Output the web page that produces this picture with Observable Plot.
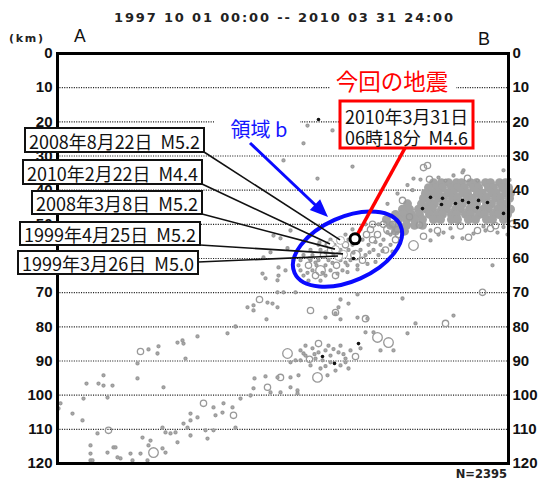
<!DOCTYPE html>
<html><head><meta charset="utf-8">
<script src="https://cdn.jsdelivr.net/npm/d3@7"></script>
<script src="https://cdn.jsdelivr.net/npm/@observablehq/plot@0.6"></script>
<style>body{margin:0;background:#fff;} #chart{width:539px;height:480px;overflow:hidden;}</style>
</head><body><div id="chart"></div>
<script>
// ---------- DATA ----------
const periodTitle = "1997 10 01 00:00 -- 2010 03 31 24:00";
const eventCount = "N=2395";
const depthTicks = [0,10,20,30,40,50,60,70,80,90,100,110,120];
const gridDepths = [10,20,30,40,50,60,70,80,90,100,110];
const sectionEnds = ["A","B"];

// scattered hypocentres: [distance along A-B, depth km, magnitude class 1..3]
const scatterEvents = [
 [250,21.1,1],[246,26.3,1],[275,22.5,1],[295,33.1,1],[260,36.6,1],[366,33.4,2],[406,34.2,1],[381,36.3,1],[356,36.6,1],[396,35.7,1],[420,37.2,1],[370,32.8,2],[363,36.9,1],[405,34.8,1],[446,34.2,1],[226,31.3,1],
 [350,38.5,1],[340,41,1],[355,40,1],[330,44,1],[345,43,2],
 [373,51.8,1],[380,51.8,2],[386,52.4,1],[356,56.2,3],[373,54.7,1],[395,53.8,1],[405,54.1,1],[411,53.8,2],[416,52.7,1],[420,51.8,2],[428,51.8,1],[435,62,1],[433,51.2,2],[440,52.4,1],[393,51.2,1],[403,50.5,2],[381,53,1],[446,50.8,1],[450,53,1],[366,53.5,2],
 [315,50,2],[326,50,2],[335,50,2],[308,50,1],[321,50,1],
 [303,51.5,1],[313,51.5,2],[331,51.5,3],[340,51.5,2],[295,51.5,1],
 [288,53,1],[299,53,1],[309,53,2],[320,53,2],[333,53,1],[341,53,2],
 [273,54.5,1],[283,54.5,1],[291,54.5,1],[305,54.5,1],[315,54.5,2],[326,54.5,1],[338,54.5,2],
 [261,56,1],[269,56,1],[277,56,1],[288,56,2],[295,56,1],[311,56,1],[323,56,1],[333,56,1],
 [253,57.5,1],[263,57.5,1],[273,57.5,2],[283,57.5,1],[291,57.5,1],[303,57.5,1],[316,57.5,1],[328,57.5,2],
 [246,59,1],[255,59,1],[266,59,2],[276,59,1],[288,59,1],[298,59,3],[308,59,1],[321,59,1],
 [243,60.5,1],[253,60.5,1],[261,60.5,1],[271,60.5,1],[283,60.5,1],[293,60.5,1],[305,60.5,2],
 [241,62,1],[251,62,2],[259,62,1],[268,62,1],[279,62,2],[290,62,1],[300,62,1],
 [243,63.5,1],[255,63.5,1],[263,63.5,3],[273,63.5,1],[285,63.5,1],
 [246,65,1],[258,65,2],[268,65,1],[278,65,2],[251,66.5,1],[263,66.5,1],
 [300,55.3,1],[318,55.2,1],[330,52.3,1],[312,58.2,1],[296,58.3,1],[282,58.3,1],[268,58.2,1],[258,61.2,1],[275,61.3,1],[288,61.2,1],[265,64.2,1],[250,64.2,1],[280,64.4,1],[290,64,1],[252,60,1],[262,55.3,1],[345,52.2,1],[325,57.8,1],[335,58,1],[318,61,1],[300,63.2,1],[310,61.6,1],
 [216,53.3,1],[223,54.1,1],[213,58.2,1],[205,64.4,1],[208,65.8,1],[221,65,1],[221,62.6,1],[220,66.4,1],[206,59.7,1],[233,51.8,1],[230,57,1],[236,60.5,1],[228,63.5,1],
 [202,72,2],[210,72.9,1],[215,73.2,1],[220,74.3,1],[196,73.7,1],[190,74.3,1],[196,75.2,1],[220,69.9,1],[226,69.9,1],[238,69.9,1],[253,75.2,2],[278,76.1,1],[268,77.3,1],[283,77.8,1],[209,77.8,1],[140,82.8,1],[170,81.9,1],[178,79.9,1],[120,84.6,1],[125,84,1],[126,84.9,1],[83,87.2,2],[91,86.6,1],[100,87.8,1],[101,85.7,1],[80,90.7,1],[128,89.3,1],[46,94.2,1],[29,96.6,1],[41,96.6,1],[46,97.2,1],[55,97.2,1],[80,95.1,1],[106,97.7,1],[197,95.1,1],[208,94.5,1],[220,94.8,1],[223,94.8,2],[233,94.8,1],[241,94.2,1],[233,97.7,1],[240,98.6,1],[196,98,1],[210,97.7,2],[213,99.2,1],[223,99.2,1],[240,99.5,1],[230,87.8,3],[233,90.4,1],[243,89.8,1],[246,87.8,1],[260,94.8,3],[270,94.2,1],[26,101,1],[50,100.7,1],[193,100.1,1],[183,101,1],[146,102.4,2],[156,103.6,1],[166,102.4,1],[175,103.6,1],[176,105.9,2],[158,105.9,1],[165,105.1,1],[133,105.4,1],[140,106.5,1],[133,107.4,1],[15,105.4,1],[25,107.4,1],[126,108.3,1],[130,109.5,1],[105,109.5,1],[108,110.9,1],[113,111.2,1],[118,110.9,1],[120,113.8,1],[148,110.3,1],[156,110.3,1],[178,109.5,1],[133,111.8,1],[150,112.7,1],[40,111.2,1],[51,110.3,2],[93,113.3,1],[91,114.7,1],[85,112.4,1],[96,116.8,3],[105,115.6,1],[108,116.8,1],[33,114.7,1],[33,117.1,1],[33,119.1,1],[56,115.3,1],[63,118.5,1],[73,117.1,1],[75,119.1,1],[83,117.1,1],[90,119.1,1],[3,102.4,1],[1,103.9,1],[35,119.1,1],[50,116.8,1],[58,115.3,1],[60,118.2,1],
 [331,84.6,3],[320,83.1,3],[316,81.6,1],[308,81.6,1],[303,86.3,1],[336,86.9,1],[323,86.9,1],[300,77.3,1],[310,77.6,1],[281,74.3,1],[278,75.8,2],[291,73.2,1],[308,77.6,2],
 [255,86.3,1],[261,87.5,1],[268,86.9,1],[273,88.4,1],[281,87.5,1],[288,89.3,1],[258,89.3,1],[265,89.8,1],[273,90.4,1],[283,91.3,1],[291,92.2,1],[253,91.3,1],[263,92.2,1],[278,92.8,1],[288,90.4,1],[271,85.5,1],[283,85.5,1],[248,88.4,1],[243,86.9,1],[238,89.8,1],[293,86.9,1],[298,88.7,2],[261,84.9,2],[248,85.5,1],[257,88,1],[276,86.5,1],[286,88,1],[268,91.5,1],[252,89.5,2],
 [345,71.7,1],[425,69.9,2],[388,79,2],[396,76.7,1],[358,79,1],[350,81.9,1],[300,70.5,1],[283,72,1],
 [372,36.8,2],[388,37.2,1],[410,36.5,2],[452,37,1],[438,50.4,2],[455,49.8,2],[426,50.6,1],[362,50.2,2],[352,47.8,2]
];

// densely packed hypocentres of the shallow cluster: [depth, distances...]
const denseRows = [
 [37.8,[376,384,391,399,404,413,419,428,433,442,448]],
 [39.3,[371,379,385,394,400,407,416,421,431,436,445,451]],
 [40.9,[368,376,381,390,396,405,410,420,425,434,439,448,453]],
 [42.4,[366,372,381,386,395,400,410,415,424,429,438,443,452]],
 [44.0,[350,364,372,377,386,391,400,405,414,419,429,434,443,449]],
 [45.6,[345,352,361,369,375,384,389,398,403,412,417,426,431,440,445,453]],
 [47.1,[338,346,354,362,372,380,385,394,399,408,413,422,427,436,441,450]],
 [48.6,[329,341,349,357,365,376,383,394,400,411,418,429,435,446]],
 [50.3,[333,341,349,357,365]],
 [52.0,[338,347]]
];

// most recent events (black): [distance, depth]
const recentEvents = [[373,42.1],[385,42.4],[384,44.2],[365,45.4],[398,43.9],[405,43.0],[411,43.6],[421,43.0],[430,43.6],[420,45.1],[446,46.8],[261,19.3],[296,60],[301,84.9],[265,88.7],[277,90.7]];

// labelled past events in area b
const labelledEvents = [
 {label:"2008年8月22日  M5.2", x:283, depth:54.7},
 {label:"2010年2月22日  M4.4", x:273, depth:55.9},
 {label:"2008年3月8日  M5.2",  x:278, depth:57.4},
 {label:"1999年4月25日  M5.2", x:286, depth:58.8},
 {label:"1999年3月26日  M5.0", x:281, depth:59.4}
];
const mainShock = {x:298, depth:54.4, line1:"2010年3月31日", line2:"06時18分  M4.6"};
const mainTitle = "今回の地震";
const areaLabel = "領域 b";
const areaB = {x:290.5, depth:57.4};

// ---------- LAYOUT (pixels) ----------
const calloutBoxes = [[25,128,204,152,204,152],[23,160,202,184,202,184],[32,191,202,214,202,214],[20,222,200,245,200,245],[18,251,198,274,198,262]];
const redBox = [340,101,473,148];
const redLineTop = [405,148];
const arrowFrom = [250,143], arrowTo = [328,217];

const denseBand = denseRows.flatMap(([d, xs]) => xs.map(x => [x, d]));

const plot = Plot.plot({
  width: 539, height: 480,
  marginTop: 53, marginBottom: 17, marginLeft: 57, marginRight: 31,
  x: {domain: [0, 451], axis: null},
  y: {domain: [0, 120], reverse: true, axis: null},
  r: {type: "linear", domain: [1, 3], range: [1.5, 4.8]},
  style: {fontFamily: "'Liberation Sans', Arial, sans-serif", background: "white", overflow: "visible"},
  marks: [
    Plot.ruleY(gridDepths, {stroke: "#222", strokeWidth: 1.2, strokeDasharray: "1.1,1.3"}),
    Plot.dot(denseBand, {x: d => d[0], y: d => d[1], r: 4.5, fill: "#a3a3a3", stroke: "none"}),
    Plot.dot(scatterEvents, {x: d => d[0], y: d => d[1], r: d => d[2], stroke: "#999", strokeWidth: 1.3, fill: d => d[2] === 1 ? "#aaa" : "none"}),
    Plot.dot(recentEvents, {x: d => d[0], y: d => d[1], r: 1.8, fill: "#111", stroke: "none"}),
    Plot.dot(labelledEvents, {x: "x", y: "depth", r: 4, fill: "white", stroke: "#aaa", strokeWidth: 1}),
    Plot.frame({stroke: "#000", strokeWidth: 3}),
    Plot.axisY({anchor: "left", ticks: depthTicks, tickSize: 0, tickPadding: 5, tickFormat: d => String(d), label: null, fontSize: 15, fontWeight: "bold", fill: "#111"}),
    Plot.axisY({anchor: "right", ticks: depthTicks, tickSize: 0, tickPadding: 4, tickFormat: d => String(d), label: null, fontSize: 15, fontWeight: "bold", fill: "#111"})
  ]
});
document.getElementById("chart").appendChild(plot);

const X = v => plot.scale("x").apply(v), Y = v => plot.scale("y").apply(v);
const svg = d3.select(plot);
const g = svg.append("g").attr("text-anchor", "start");
const JP = "'Noto Sans CJK JP', sans-serif";

// header texts
g.append("text").attr("x", 114).attr("y", 21.5).attr("textLength", 339).attr("lengthAdjust", "spacing")
  .attr("font-family", "'DejaVu Sans', sans-serif").attr("font-weight", "bold").attr("font-size", 13).attr("fill", "#222").text(periodTitle);
g.append("text").attr("x", 9).attr("y", 42).attr("textLength", 34).attr("font-family", "'DejaVu Sans', sans-serif").attr("font-weight", "bold").attr("font-size", 11).attr("fill", "#222").text("(km)");
g.append("text").attr("x", 74).attr("y", 41.5).attr("font-size", 17.5).attr("fill", "#111").text(sectionEnds[0]);
g.append("text").attr("x", 478).attr("y", 45).attr("font-size", 18).attr("fill", "#111").text(sectionEnds[1]);
g.append("text").attr("x", 507).attr("y", 478).attr("text-anchor", "end").attr("font-family", "'DejaVu Sans', sans-serif").attr("font-weight", "bold").attr("font-size", 11.5).attr("fill", "#222").text(eventCount);

// area b ellipse
const ecx = X(areaB.x), ecy = Y(areaB.depth);
g.append("ellipse").attr("cx", ecx).attr("cy", ecy).attr("rx", 58).attr("ry", 32)
  .attr("transform", `rotate(-24 ${ecx} ${ecy})`).attr("fill", "none").attr("stroke", "#0a0aff").attr("stroke-width", 4);

// area label with white backing
g.append("rect").attr("x", 214).attr("y", 116).attr("width", 86).attr("height", 22).attr("fill", "white");
g.append("text").attr("x", 259).attr("y", 128).attr("text-anchor", "middle").attr("dominant-baseline", "central")
  .attr("font-family", JP).attr("font-size", 20).attr("fill", "#1414ff").text(areaLabel);

// blue arrow
const dx = arrowTo[0] - arrowFrom[0], dy = arrowTo[1] - arrowFrom[1], len = Math.hypot(dx, dy);
const ux = dx / len, uy = dy / len, hl = 18, hw = 7.5;
const bx = arrowTo[0] - ux * hl, by = arrowTo[1] - uy * hl;
g.append("line").attr("x1", arrowFrom[0]).attr("y1", arrowFrom[1]).attr("x2", bx + ux * 2).attr("y2", by + uy * 2).attr("stroke", "#0a0aff").attr("stroke-width", 3);
g.append("polygon").attr("points", [[arrowTo[0], arrowTo[1]], [bx - uy * hw, by + ux * hw], [bx + uy * hw, by - ux * hw]].map(p => p.join(",")).join(" ")).attr("fill", "#0a0aff");

// callouts
labelledEvents.forEach((e, i) => {
  const [x1, y1, x2, y2, lx, ly] = calloutBoxes[i];
  g.append("line").attr("x1", lx).attr("y1", ly).attr("x2", X(e.x)).attr("y2", Y(e.depth)).attr("stroke", "#111").attr("stroke-width", 1.6);
});
labelledEvents.forEach((e, i) => {
  const [x1, y1, x2, y2] = calloutBoxes[i];
  g.append("rect").attr("x", x1).attr("y", y1).attr("width", x2 - x1).attr("height", y2 - y1).attr("fill", "white").attr("stroke", "#111").attr("stroke-width", 2);
  g.append("text").attr("x", x1 + 4).attr("y", (y1 + y2) / 2 + 0.5).attr("dominant-baseline", "central")
    .attr("textLength", x2 - x1 - 8).attr("lengthAdjust", "spacingAndGlyphs")
    .attr("font-family", JP).attr("font-size", 18).attr("fill", "#111").text(e.label);
});

// main shock callout
g.append("rect").attr("x", 330).attr("y", 67).attr("width", 126).attr("height", 26).attr("fill", "white");
g.append("text").attr("x", 392).attr("y", 80).attr("text-anchor", "middle").attr("dominant-baseline", "central")
  .attr("font-family", JP).attr("font-size", 22.5).attr("fill", "#ff0000").text(mainTitle);
g.append("line").attr("x1", X(mainShock.x)).attr("y1", Y(mainShock.depth)).attr("x2", redLineTop[0]).attr("y2", redLineTop[1]).attr("stroke", "#ff0000").attr("stroke-width", 3.5);
g.append("rect").attr("x", redBox[0]).attr("y", redBox[1]).attr("width", redBox[2] - redBox[0]).attr("height", redBox[3] - redBox[1])
  .attr("fill", "white").attr("stroke", "#ff0000").attr("stroke-width", 3);
g.append("text").attr("x", redBox[0] + 5).attr("y", 116).attr("dominant-baseline", "central").attr("textLength", 123).attr("lengthAdjust", "spacingAndGlyphs")
  .attr("font-family", JP).attr("font-size", 18).attr("fill", "#111").text(mainShock.line1);
g.append("text").attr("x", redBox[0] + 5).attr("y", 136.5).attr("dominant-baseline", "central").attr("textLength", 123).attr("lengthAdjust", "spacingAndGlyphs")
  .attr("font-family", JP).attr("font-size", 18).attr("fill", "#111").text(mainShock.line2);
g.append("circle").attr("cx", X(mainShock.x)).attr("cy", Y(mainShock.depth)).attr("r", 5).attr("fill", "white").attr("stroke", "#000").attr("stroke-width", 3);
</script>
</body></html>
